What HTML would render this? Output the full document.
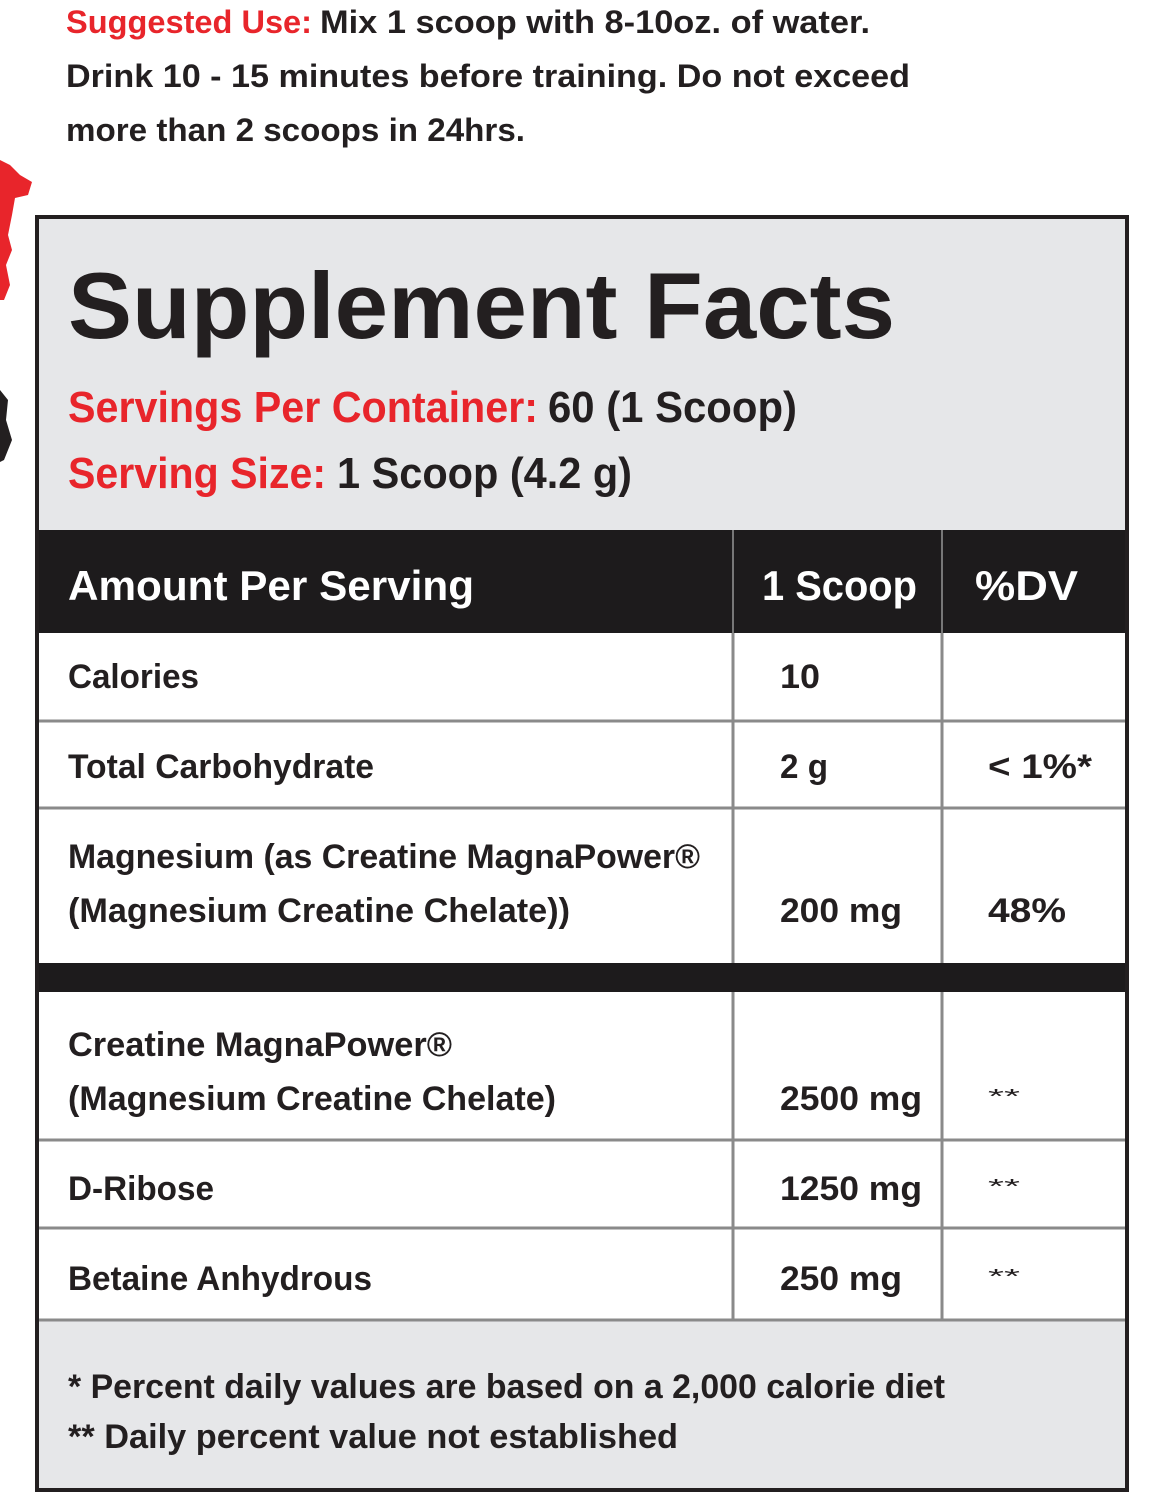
<!DOCTYPE html>
<html><head><meta charset="utf-8"><style>
html,body{margin:0;padding:0;background:#fff;}
svg{display:block;}
text{font-family:"Liberation Sans",sans-serif;fill:#231f20;}
.b{font-weight:bold;}
.r{fill:#e8252b;}
.w{fill:#fff;}
</style></head><body>
<svg width="1158" height="1500" viewBox="0 0 1158 1500" xmlns="http://www.w3.org/2000/svg">
<rect width="1158" height="1500" fill="#fff"/>
<!-- splatter -->
<path d="M0 160 L10 165 L20 175 L32 182 L28 195 L15 198 L12 215 L8 235 L12 250 L6 265 L10 285 L4 300 L0 300 Z" fill="#e8252b"/>
<path d="M0 390 L8 400 L6 420 L12 440 L4 460 L0 462 Z" fill="#231f20"/>
<!-- box -->
<rect x="37" y="217" width="1090" height="1273" fill="#e6e7e9" stroke="#231f20" stroke-width="4"/>
<rect x="39" y="633" width="1086" height="687" fill="#fff"/>
<rect x="39" y="530" width="1086" height="103" fill="#1d1b1c"/>
<rect x="39" y="963" width="1086" height="29" fill="#1d1b1c"/>
<g stroke="#8a8a8a" stroke-width="3">
<line x1="39" y1="721" x2="1125" y2="721"/>
<line x1="39" y1="808" x2="1125" y2="808"/>
<line x1="39" y1="1140" x2="1125" y2="1140"/>
<line x1="39" y1="1228" x2="1125" y2="1228"/>
<line x1="39" y1="1320" x2="1125" y2="1320"/>
<line x1="733" y1="633" x2="733" y2="963"/>
<line x1="942" y1="633" x2="942" y2="963"/>
<line x1="733" y1="992" x2="733" y2="1320"/>
<line x1="942" y1="992" x2="942" y2="1320"/>
</g>
<line x1="733" y1="530" x2="733" y2="633" stroke="#777" stroke-width="2"/>
<line x1="942" y1="530" x2="942" y2="633" stroke="#777" stroke-width="2"/>

<text x="66" y="33" font-size="32" class="b r" textLength="246" lengthAdjust="spacingAndGlyphs">Suggested Use:</text>
<text x="320" y="33" font-size="32" class="b" textLength="550" lengthAdjust="spacingAndGlyphs">Mix 1 scoop with 8-10oz. of water.</text>
<text x="66" y="87" font-size="32" class="b" textLength="844" lengthAdjust="spacingAndGlyphs">Drink 10 - 15 minutes before training. Do not exceed</text>
<text x="66" y="141" font-size="32" class="b" textLength="459" lengthAdjust="spacingAndGlyphs">more than 2 scoops in 24hrs.</text>

<text x="68" y="338" font-size="94" class="b" textLength="827" lengthAdjust="spacingAndGlyphs">Supplement Facts</text>
<text x="68" y="422" font-size="44" class="b r" textLength="470" lengthAdjust="spacingAndGlyphs">Servings Per Container:</text>
<text x="548" y="422" font-size="44" class="b" textLength="249" lengthAdjust="spacingAndGlyphs">60 (1 Scoop)</text>
<text x="68" y="488" font-size="44" class="b r" textLength="258" lengthAdjust="spacingAndGlyphs">Serving Size:</text>
<text x="337" y="488" font-size="44" class="b" textLength="295" lengthAdjust="spacingAndGlyphs">1 Scoop (4.2 g)</text>

<text x="68" y="600" font-size="42" class="b w" textLength="406" lengthAdjust="spacingAndGlyphs">Amount Per Serving</text>
<text x="762" y="600" font-size="42" class="b w" textLength="155" lengthAdjust="spacingAndGlyphs">1 Scoop</text>
<text x="975" y="600" font-size="42" class="b w" textLength="103" lengthAdjust="spacingAndGlyphs">%DV</text>

<g font-size="34" class="b">
<text x="68" y="688" class="b" textLength="131" lengthAdjust="spacingAndGlyphs">Calories</text>
<text x="780" y="688" class="b" textLength="40" lengthAdjust="spacingAndGlyphs">10</text>
<text x="68" y="778" class="b" textLength="306" lengthAdjust="spacingAndGlyphs">Total Carbohydrate</text>
<text x="780" y="778" class="b" textLength="48" lengthAdjust="spacingAndGlyphs">2 g</text>
<text x="988" y="778" class="b" textLength="104" lengthAdjust="spacingAndGlyphs">&lt; 1%*</text>
<text x="68" y="868" class="b" textLength="632" lengthAdjust="spacingAndGlyphs">Magnesium (as Creatine MagnaPower®</text>
<text x="68" y="922" class="b" textLength="502" lengthAdjust="spacingAndGlyphs">(Magnesium Creatine Chelate))</text>
<text x="780" y="922" class="b" textLength="122" lengthAdjust="spacingAndGlyphs">200 mg</text>
<text x="988" y="922" class="b" textLength="78" lengthAdjust="spacingAndGlyphs">48%</text>
<text x="68" y="1056" class="b" textLength="384" lengthAdjust="spacingAndGlyphs">Creatine MagnaPower®</text>
<text x="68" y="1110" class="b" textLength="488" lengthAdjust="spacingAndGlyphs">(Magnesium Creatine Chelate)</text>
<text x="780" y="1110" class="b" textLength="142" lengthAdjust="spacingAndGlyphs">2500 mg</text>
<text x="68" y="1200" class="b" textLength="146" lengthAdjust="spacingAndGlyphs">D-Ribose</text>
<text x="780" y="1200" class="b" textLength="142" lengthAdjust="spacingAndGlyphs">1250 mg</text>
<text x="68" y="1290" class="b" textLength="304" lengthAdjust="spacingAndGlyphs">Betaine Anhydrous</text>
<text x="780" y="1290" class="b" textLength="122" lengthAdjust="spacingAndGlyphs">250 mg</text>
</g>
<g font-size="20">
<text x="988" y="1103" textLength="32" lengthAdjust="spacingAndGlyphs">**</text>
<text x="988" y="1193" textLength="32" lengthAdjust="spacingAndGlyphs">**</text>
<text x="988" y="1283" textLength="32" lengthAdjust="spacingAndGlyphs">**</text>
</g>
<text x="68" y="1398" font-size="34" class="b" textLength="877" lengthAdjust="spacingAndGlyphs">* Percent daily values are based on a 2,000 calorie diet</text>
<text x="68" y="1448" font-size="34" class="b" textLength="610" lengthAdjust="spacingAndGlyphs">** Daily percent value not established</text>
</svg>
</body></html>
